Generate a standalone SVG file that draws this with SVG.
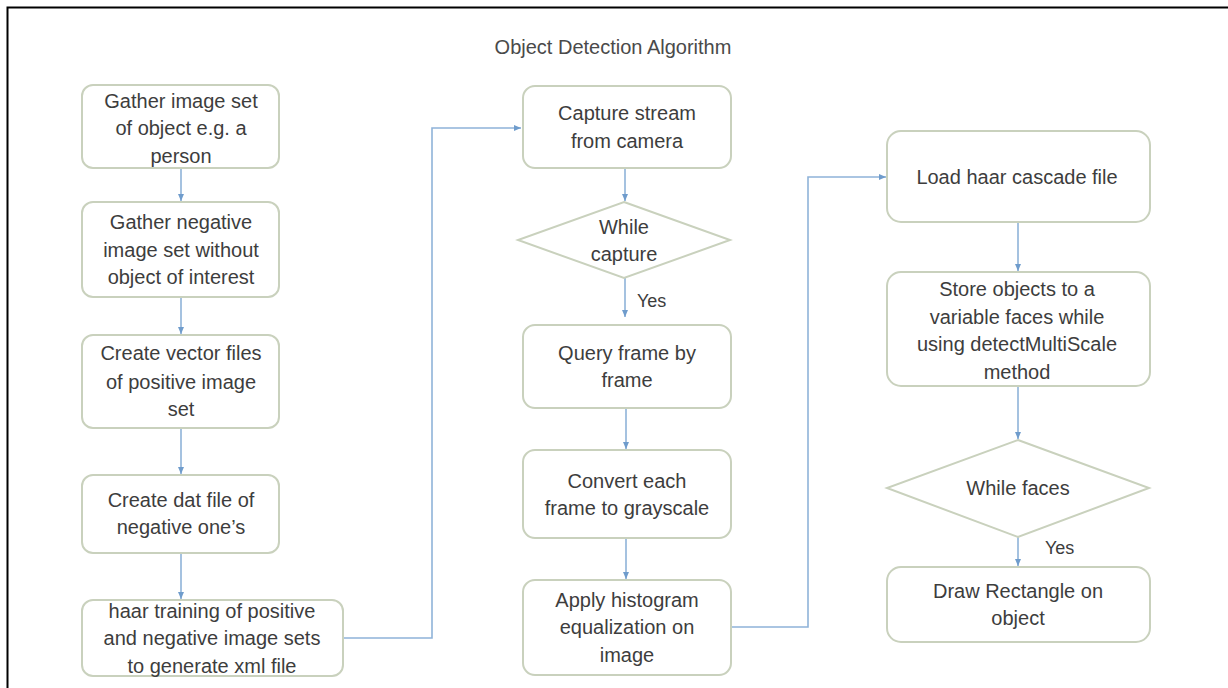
<svg xmlns="http://www.w3.org/2000/svg" width="1228" height="688" viewBox="0 0 1228 688">
<defs>
<style>
.box{fill:#fff;stroke:#c9d1bd;stroke-width:2}
.t{font-family:"Liberation Sans",Arial,sans-serif;font-size:20px;fill:#3d3d3d;text-anchor:middle}
.title{font-family:"Liberation Sans",Arial,sans-serif;font-size:20px;fill:#4a4a4a;text-anchor:middle}
.yes{font-family:"Liberation Sans",Arial,sans-serif;font-size:18px;fill:#3d3d3d}
.c{fill:none;stroke:#8fb3d9;stroke-width:1.6}
</style>
<marker id="ah" markerWidth="8" markerHeight="8" refX="7" refY="4" orient="auto" markerUnits="userSpaceOnUse">
<path d="M0,1 L7,4 L0,7 Z" fill="#6f9ccc"/>
</marker>
</defs>
<rect x="0" y="0" width="1228" height="688" fill="#fff"/>
<path d="M7.5,700 V7.5 H1228" fill="none" stroke="#000" stroke-width="2"/>
<text class="title" x="613" y="54">Object Detection Algorithm</text>

<g id="connectors">
<path class="c" d="M181,168 V201" marker-end="url(#ah)"/>
<path class="c" d="M181,297 V334" marker-end="url(#ah)"/>
<path class="c" d="M181,428 V474" marker-end="url(#ah)"/>
<path class="c" d="M181,553 V599" marker-end="url(#ah)"/>
<path class="c" d="M343,638 H432 V128 H521" marker-end="url(#ah)"/>
<path class="c" d="M625,168 V201" marker-end="url(#ah)"/>
<path class="c" d="M625,278 V317" marker-end="url(#ah)"/>
<path class="c" d="M626,408 V449" marker-end="url(#ah)"/>
<path class="c" d="M626,538 V579" marker-end="url(#ah)"/>
<path class="c" d="M731,627 H808 V177 H886" marker-end="url(#ah)"/>
<path class="c" d="M1018,222 V271" marker-end="url(#ah)"/>
<path class="c" d="M1018,386 V439" marker-end="url(#ah)"/>
<path class="c" d="M1018,537 V566" marker-end="url(#ah)"/>
<text class="yes" x="637" y="307">Yes</text>
<text class="yes" x="1045" y="554">Yes</text>
</g>

<g id="n1"><rect class="box" x="82" y="85" width="197" height="83" rx="11"/>
<text class="t" x="181" y="108">Gather image set</text><text class="t" x="181" y="135">of object e.g. a</text><text class="t" x="181" y="163">person</text></g>
<g id="n2"><rect class="box" x="82" y="202" width="197" height="95" rx="11"/>
<text class="t" x="181" y="229">Gather negative</text><text class="t" x="181" y="257">image set without</text><text class="t" x="181" y="284">object of interest</text></g>
<g id="n3"><rect class="box" x="82" y="335" width="197" height="93" rx="11"/>
<text class="t" x="181" y="360">Create vector files</text><text class="t" x="181" y="389">of positive image</text><text class="t" x="181" y="416">set</text></g>
<g id="n4"><rect class="box" x="82" y="475" width="197" height="78" rx="11"/>
<text class="t" x="181" y="507">Create dat file of</text><text class="t" x="181" y="534">negative one’s</text></g>
<g id="n5"><rect class="box" x="82" y="600" width="261" height="76" rx="11"/>
<text class="t" x="212" y="618">haar training of positive</text><text class="t" x="212" y="645">and negative image sets</text><text class="t" x="212" y="673">to generate xml file</text></g>

<g id="n6"><rect class="box" x="523" y="86" width="208" height="82" rx="12"/>
<text class="t" x="627" y="120">Capture stream</text><text class="t" x="627" y="148">from camera</text></g>
<g id="n7"><polygon class="box" points="624,202 730,240 624,278 518,240"/>
<text class="t" x="624" y="234">While</text><text class="t" x="624" y="261">capture</text></g>
<g id="n8"><rect class="box" x="523" y="325" width="208" height="83" rx="12"/>
<text class="t" x="627" y="360">Query frame by</text><text class="t" x="627" y="387">frame</text></g>
<g id="n9"><rect class="box" x="523" y="450" width="208" height="88" rx="12"/>
<text class="t" x="627" y="488">Convert each</text><text class="t" x="627" y="515">frame to grayscale</text></g>
<g id="n10"><rect class="box" x="523" y="580" width="208" height="95" rx="12"/>
<text class="t" x="627" y="607">Apply histogram</text><text class="t" x="627" y="634">equalization on</text><text class="t" x="627" y="662">image</text></g>

<g id="n11"><rect class="box" x="887" y="131" width="263" height="91" rx="14"/>
<text class="t" x="1017" y="184">Load haar cascade file</text></g>
<g id="n12"><rect class="box" x="887" y="272" width="263" height="114" rx="14"/>
<text class="t" x="1017" y="296">Store objects to a</text><text class="t" x="1017" y="324">variable faces while</text><text class="t" x="1017" y="351">using detectMultiScale</text><text class="t" x="1017" y="379">method</text></g>
<g id="n13"><polygon class="box" points="1018,440 1149,488 1018,537 887,488"/>
<text class="t" x="1018" y="495">While faces</text></g>
<g id="n14"><rect class="box" x="887" y="567" width="263" height="75" rx="14"/>
<text class="t" x="1018" y="598">Draw Rectangle on</text><text class="t" x="1018" y="625">object</text></g>
</svg>
